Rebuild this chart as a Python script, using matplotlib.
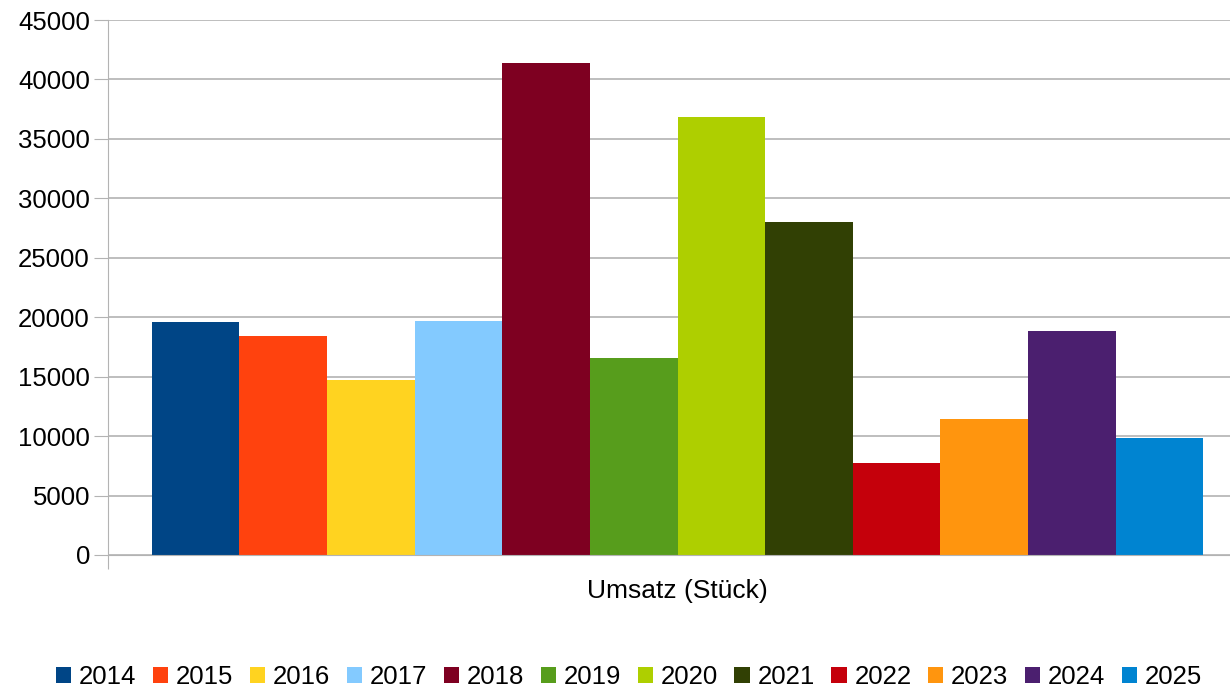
import matplotlib.pyplot as plt
from matplotlib.patches import Patch

plt.rcParams['font.family'] = ['Liberation Sans', 'DejaVu Sans']

# Umsatz je Jahr (eine Kategorie, zwölf Reihen)
years = ["2014", "2015", "2016", "2017", "2018", "2019",
         "2020", "2021", "2022", "2023", "2024", "2025"]
umsatz = [19600, 18400, 14680, 19680, 41420, 16600,
          36820, 28050, 7760, 11470, 18850, 9870]
colors = ["#004586", "#ff420e", "#ffd320", "#83caff", "#7e0021", "#579d1c",
          "#aecf00", "#314004", "#c5000b", "#ff950e", "#4b1f6f", "#0084d1"]
category = "Umsatz (Stück)"

fs = 18.5

fig = plt.figure(figsize=(12.3, 6.9), dpi=100)
# plot area runs past the right edge like in the original
ax = fig.add_axes([108 / 1230, 1 - 555 / 690, 1139 / 1230, 535 / 690])

x = list(range(len(years)))
ax.bar(x, umsatz, width=1.0, color=colors, zorder=2)

ax.set_xlim(-1.0, 12.0)
ax.set_ylim(0, 45000)
ax.set_yticks(range(0, 45001, 5000))
ax.tick_params(axis='y', labelsize=fs, length=10, color='#b3b3b3', pad=3)
ax.grid(axis='y', color='#b3b3b3', linewidth=1.2, zorder=0)

ax.set_xticks([-1.0])
ax.set_xticklabels([''])
ax.tick_params(axis='x', length=10, color='#b3b3b3')
ax.text(0.5, -0.068, category, transform=ax.transAxes, ha='center', va='center', fontsize=19)

for s in ['top', 'right']:
    ax.spines[s].set_visible(False)
ax.spines['left'].set_color('#b3b3b3')
ax.spines['bottom'].set_color('#b3b3b3')

handles = [Patch(facecolor=c, label=y) for c, y in zip(colors, years)]
fig.legend(handles=handles, loc='center', bbox_to_anchor=(629 / 1230, 1 - 677 / 690),
           ncol=12, frameon=False, fontsize=fs, handlelength=0.6, handleheight=0.6,
           handletextpad=0.3, columnspacing=0.64, borderpad=0)

fig.savefig('out.png', dpi=100)
